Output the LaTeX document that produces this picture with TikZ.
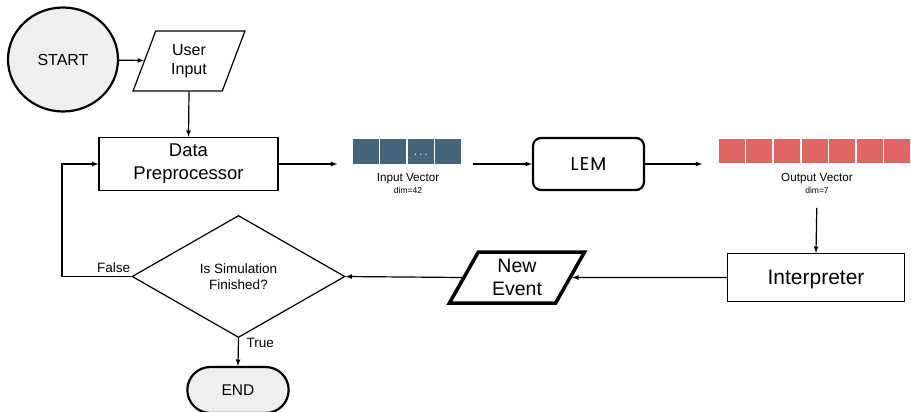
\documentclass[tikz,border=0pt]{standalone}
\usepackage{fontspec}
\setmainfont{Liberation Sans}
\newfontfamily\lemfont[LetterSpace=6]{Poppins}
\usepackage{tikz}
\usetikzlibrary{
    arrows,
    shapes,
    shapes.geometric,
    shapes.misc,
    calc,
    positioning
}

\definecolor{termgray}{HTML}{EFEFEF}
\definecolor{inblue}{HTML}{45647A}
\definecolor{outred}{HTML}{E06666}

\newcommand{\setfs}[2]{\fontsize{#1}{#2}\selectfont}

\tikzset{
    every node/.style={align=center},
    startnode/.style={ellipse, draw, line width=2.2pt, fill=termgray,
        minimum width=110pt, minimum height=104pt, font=\setfs{16}{19}},
    endnode/.style={rounded rectangle, draw, line width=2.2pt, fill=termgray,
        minimum width=108pt, minimum height=46pt, font=\setfs{15.5}{18}},
    io/.style={trapezium, trapezium left angle=70, trapezium right angle=110,
        trapezium stretches=true, draw, line width=1.2pt, inner sep=0pt},
    process/.style={rectangle, draw, line width=1.2pt, font=\setfs{18.5}{23}},
    model/.style={rectangle, rounded corners=8pt, draw, line width=2.2pt,
        minimum width=111pt, minimum height=52pt, font=\lemfont\setfs{18.5}{20}},
    decision/.style={diamond, draw, line width=1.2pt, inner sep=0pt, aspect=1.73,
        minimum width=213pt, minimum height=122pt, font=\setfs{13.5}{16}},
    cell/.style={rectangle, draw=white, line width=1.5pt, inner sep=0pt,
        minimum height=26pt},
    celldots/.style={text=white, inner sep=0pt, text height=7pt, text depth=0pt,
        font=\setfs{12}{12}},
    veclabel/.style={inner sep=0pt, font=\setfs{11.7}{13}},
    dimlabel/.style={inner sep=0pt, font=\setfs{8.5}{10}},
    flowlabel/.style={inner sep=0pt, font=\setfs{13.5}{16}},
    flow/.style={-latex, line width=1.2pt}
}

\begin{document}
\begin{tikzpicture}[x=1pt, y=-1pt]
    \useasboundingbox (0,0) rectangle (911,412);

    \node[startnode] (start) at (63,59.5) {START};
    \node[io, minimum width=112pt, minimum height=60pt, font=\setfs{16}{19}] (userin) at (189,61) {User\\Input};
    \node[process, minimum width=179pt, minimum height=53pt] (dataprep) at (188.5,164) {Data\\Preprocessor};

    \foreach \i in {0,...,3}
        \node[cell, fill=inblue, minimum width=27.5pt] (in\i) at ({365.75+27.5*\i},151.5) {};
    \node[celldots] (indots) at (in2) {.\,.\,.};
    \node[veclabel] (inlab) at (408,179) {Input Vector};
    \node[dimlabel] (indim) at (408,190.5) {dim=42};

    \node[model] (lem) at (588.5,164) {LEM};

    \foreach \i in {0,...,6}
        \node[cell, fill=outred, minimum width=27.6pt] (out\i) at ({731.8+27.6*\i},151) {};
    \node[veclabel] (outlab) at (817,179) {Output Vector};
    \node[dimlabel] (outdim) at (817,190.5) {dim=7};

    \node[process, minimum width=177pt, minimum height=48pt, text depth=0pt, font=\setfs{21}{24}] (interp) at (816,277.5) {Interpreter};
    \node[io, line width=3.5pt, trapezium left angle=63, trapezium right angle=117,
        minimum width=136pt, minimum height=51pt, font=\setfs{19.5}{23}] (newevent) at (517,277.5) {New\\Event};
    \node[decision] (decide) at (238.5,276.5) {Is Simulation\\Finished?};
    \node[endnode] (finish) at (238,390) {END};
    \coordinate (back) at (62,276.5);

    \node[flowlabel, above left=4pt and 1pt of decide.west] (falselab) {False};
    \node[flowlabel, below right=0pt and 8pt of decide.south] (truelab) {True};

    \draw[flow] (start) -- (userin);
    \draw[flow] (userin.south) -- (dataprep.north);
    \draw[flow, shorten >=14pt] (dataprep.east) -- (dataprep.east -| in0.west);
    \draw[flow, shorten <=10pt] (in3.east |- lem.west) -- (lem.west);
    \draw[flow, shorten >=15pt] (lem.east) -- (lem.east -| out0.west);
    \draw[flow, shorten <=14pt] (outdim.south) -- (interp.north);
    \draw[flow] (interp.west) -- (newevent.east);
    \draw[flow] (newevent.west) -- (decide.east);
    \draw[flow] (decide.west) -- (back) |- (dataprep.west);
    \draw[flow] (decide.south) -- (finish.north);
\end{tikzpicture}
\end{document}
